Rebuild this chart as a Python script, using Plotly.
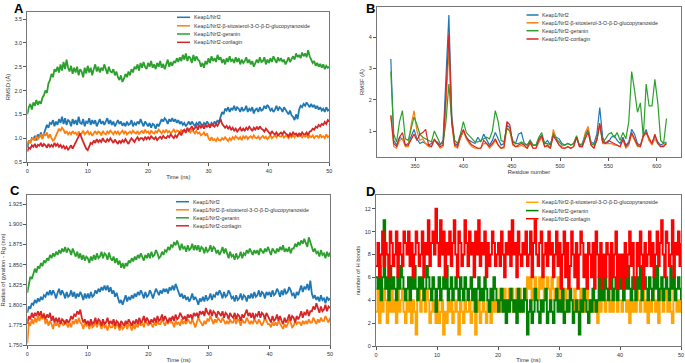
import plotly.graph_objects as go

# ---------------- DATA ----------------
TIME_NS = [round(i * 0.25, 2) for i in range(201)]

SERIES_NAMES = ["Keap1/Nrf2",
                "Keap1/Nrf2-β-sitosterol-3-O-β-D-glucopyranoside",
                "Keap1/Nrf2-geranin",
                "Keap1/Nrf2-corilagin"]

# Panel A: RMSD (Å) x100
rmsd_keap1 = [80,95,90,100,98,105,95,108,102,112,100,110,118,128,122,132,130,138,125,135,
              128,140,132,145,130,142,128,138,135,125,140,130,138,128,145,132,130,140,125,135,
              132,142,128,138,130,138,125,135,140,130,136,128,135,142,130,138,128,135,125,132,
              138,130,135,126,132,125,135,128,130,138,125,132,128,135,130,140,132,125,135,130,
              125,132,122,130,128,120,130,125,132,140,135,142,138,130,140,135,142,135,140,132,
              138,130,135,128,132,125,130,135,128,135,130,125,132,128,135,130,125,132,128,135,
              130,125,132,128,135,130,138,132,145,155,150,162,158,165,155,162,160,168,158,165,
              162,155,165,158,160,168,155,162,158,165,152,160,162,155,165,158,160,168,162,170,
              165,158,162,155,160,168,158,165,162,155,165,160,155,150,158,148,145,138,150,140,
              160,168,165,172,168,175,170,165,172,165,170,162,168,160,165,158,162,155,165,158,160]
rmsd_sito = [88,95,90,98,100,95,105,98,102,108,98,110,105,112,100,108,100,95,98,105,
             112,120,115,122,118,110,115,108,112,108,115,110,112,106,114,108,110,116,108,112,
             115,108,112,105,110,115,108,114,112,106,115,110,108,114,110,116,112,108,115,110,
             114,108,112,116,110,115,108,112,114,110,116,112,110,115,108,113,115,110,118,112,
             114,108,116,112,110,115,112,118,115,110,116,112,118,112,115,110,114,118,112,116,
             115,110,118,112,116,112,118,114,112,118,114,110,115,110,112,106,108,112,105,110,
             100,95,102,96,98,94,100,96,95,100,97,102,98,94,100,96,102,98,104,100,
             98,102,96,104,100,105,98,102,104,100,106,101,100,104,98,102,105,100,103,98,
             102,106,100,104,106,102,108,104,103,107,101,105,104,100,106,102,106,102,108,104,
             104,108,102,106,103,107,100,105,102,106,100,104,105,100,108,102,104,100,108,102,105]
rmsd_geranin = [150,165,172,160,175,168,180,170,178,172,185,190,200,195,215,222,235,228,245,240,
                250,238,255,242,260,245,265,248,240,252,235,248,238,250,232,245,240,228,248,236,
                252,238,248,232,245,255,240,250,238,248,242,255,245,235,250,240,238,245,232,240,
                228,222,232,218,225,235,228,240,232,245,238,250,245,255,242,258,248,260,250,245,
                258,250,262,248,255,245,258,250,262,248,256,245,255,265,250,260,252,262,258,268,
                260,270,262,275,265,278,262,272,268,258,275,262,272,265,262,250,258,248,262,255,
                268,258,272,262,268,260,275,265,270,258,266,255,268,260,272,262,265,258,270,260,
                268,255,265,258,262,270,258,265,255,262,250,258,265,258,270,260,262,270,255,265,
                258,268,260,272,265,258,270,262,268,260,265,255,262,270,260,268,272,265,278,270,
                275,268,280,272,278,270,285,272,265,258,262,252,258,250,256,248,255,245,252,248,250]
rmsd_corilagin = [72,80,78,85,82,88,80,86,84,90,82,88,85,80,88,82,86,82,90,84,
                  88,82,86,80,84,78,82,76,80,85,78,84,92,98,105,110,100,92,85,78,
                  75,82,90,88,95,90,98,92,96,92,100,94,92,98,94,100,95,90,97,92,
                  88,95,90,96,92,98,94,88,95,100,96,92,98,102,96,100,100,96,103,98,
                  102,98,104,100,98,102,96,100,103,99,105,101,100,105,102,108,104,100,106,102,
                  108,112,106,115,118,112,122,116,120,125,118,122,125,118,128,122,126,120,128,124,
                  128,122,130,126,124,130,126,132,140,130,125,122,126,120,124,118,122,116,120,114,
                  118,122,115,120,116,122,118,124,120,115,122,118,124,118,125,120,118,114,120,116,
                  112,108,115,110,108,112,106,110,112,108,114,110,108,104,110,106,112,108,110,105,
                  110,106,112,108,108,112,106,114,115,120,118,124,122,128,125,130,128,134,130,138,135]

# Panel B: RMSF (Å) by residue
RESIDUE = list(range(325, 611, 3))
rmsf_keap1 = [3.3,0.7,0.55,0.8,0.75,0.55,0.6,0.8,1.05,0.75,0.6,0.65,0.6,0.55,0.6,0.7,0.65,0.55,0.7,2.5,
              4.7,1.5,0.6,0.55,0.75,1.0,0.8,0.7,0.65,0.6,0.8,0.65,0.9,0.7,0.55,0.7,0.95,0.75,0.55,0.6,
              1.2,1.1,0.65,0.6,0.9,0.95,0.6,0.55,0.7,0.55,0.55,0.75,0.85,0.6,0.7,0.55,0.95,0.8,0.75,0.6,
              0.55,0.6,0.55,0.6,0.8,0.55,0.6,0.9,1.05,0.65,0.6,0.9,1.75,0.8,0.6,0.65,0.8,0.85,0.7,0.6,
              0.8,0.55,0.65,1.05,0.9,0.6,0.55,0.85,1.05,0.7,0.6,0.85,0.65,0.55,0.6,0.65]
rmsf_sito = [1.5,0.5,0.45,0.7,0.75,0.5,0.5,1.2,1.65,1.0,0.7,0.75,0.6,0.5,0.5,0.7,0.6,0.45,0.5,1.8,
             3.6,1.2,0.5,0.45,0.8,1.0,0.75,0.6,0.5,0.45,0.45,0.45,0.6,0.6,0.45,0.55,0.7,0.55,0.45,0.45,
             1.1,1.0,0.55,0.5,0.5,0.55,0.5,0.45,0.6,0.45,0.45,0.65,0.8,0.5,0.5,0.45,1.05,0.75,0.55,0.5,
             0.45,0.5,0.45,0.5,0.8,0.5,0.5,0.95,1.15,0.55,0.45,0.7,1.2,0.6,0.6,0.6,0.6,0.55,0.55,0.5,
             0.7,0.45,0.55,0.9,0.7,0.5,0.5,0.8,0.95,0.7,0.55,0.75,0.6,0.5,0.55,0.6]
rmsf_geranin = [2.9,0.9,0.65,1.3,1.65,0.75,0.7,1.1,1.45,1.2,0.9,0.8,0.75,0.7,0.65,1.0,0.8,0.6,0.6,1.3,
                2.5,1.3,0.7,0.6,0.9,1.3,0.95,0.85,0.75,0.65,0.65,0.7,0.75,0.8,0.75,1.0,1.65,1.3,0.7,0.65,
                1.1,1.0,0.7,0.6,0.6,0.65,0.6,0.55,0.7,0.55,0.55,0.8,0.95,0.6,0.6,0.55,0.9,0.75,0.65,0.55,
                0.55,0.6,0.55,0.6,0.85,0.55,0.55,0.85,1.0,0.6,0.55,0.7,1.2,0.65,0.75,0.9,0.95,0.8,0.95,0.7,
                0.95,0.75,1.3,2.9,2.3,1.6,1.9,0.8,2.5,1.8,1.8,2.65,1.9,0.7,0.6,1.4]
rmsf_corilagin = [1.5,0.6,0.5,0.8,0.95,0.55,0.55,0.75,0.9,0.7,0.9,0.95,1.05,0.55,0.5,0.75,0.6,0.5,0.55,2.2,
                  4.1,1.3,0.55,0.5,0.85,1.05,0.8,0.65,0.55,0.5,0.45,0.45,0.7,0.6,0.5,0.6,0.75,0.55,0.45,0.5,
                  1.3,1.2,0.6,0.5,0.55,0.6,0.55,0.45,0.65,0.45,0.45,0.7,0.85,0.5,0.55,0.45,0.85,0.7,0.55,0.45,
                  0.45,0.5,0.45,0.5,0.8,0.5,0.5,0.75,0.95,0.55,0.45,0.75,1.25,0.65,0.6,0.7,0.65,0.6,0.55,0.5,
                  0.75,0.5,0.6,0.95,0.75,0.55,0.5,0.85,0.95,0.75,0.6,0.9,0.6,0.5,0.5,0.6]

# Panel C: radius of gyration (nm) x1000
rg_keap1 = [1790,1798,1795,1802,1800,1806,1802,1808,1804,1810,1806,1812,1810,1816,1812,1818,1812,1818,1814,1808,
            1815,1820,1812,1818,1814,1808,1816,1810,1812,1818,1810,1816,1808,1814,1810,1816,1812,1806,1814,1808,
            1814,1808,1816,1810,1812,1818,1814,1820,1816,1822,1818,1824,1818,1824,1816,1822,1814,1818,1810,1815,
            1808,1802,1806,1800,1806,1812,1804,1810,1806,1812,1808,1814,1810,1816,1812,1818,1814,1808,1816,1810,
            1812,1818,1814,1808,1814,1820,1816,1812,1818,1814,1820,1816,1820,1814,1822,1818,1824,1818,1826,1820,
            1816,1810,1814,1808,1812,1806,1810,1804,1808,1814,1806,1810,1806,1800,1808,1804,1810,1804,1812,1806,
            1808,1814,1806,1812,1810,1816,1812,1818,1814,1808,1816,1810,1812,1818,1814,1808,1810,1804,1812,1806,
            1808,1814,1806,1812,1810,1804,1812,1808,1814,1808,1816,1810,1812,1818,1810,1816,1814,1808,1816,1812,
            1816,1810,1818,1812,1814,1820,1816,1810,1818,1812,1820,1814,1816,1822,1818,1812,1814,1808,1816,1812,
            1818,1824,1816,1822,1820,1826,1818,1830,1814,1808,1812,1806,1810,1804,1812,1806,1808,1802,1810,1806,1808]
rg_sito = [1752,1778,1774,1782,1776,1784,1778,1786,1780,1786,1782,1790,1776,1782,1774,1780,1776,1770,1778,1774,
           1778,1772,1780,1776,1774,1780,1776,1772,1778,1772,1780,1776,1782,1776,1784,1778,1776,1770,1778,1774,
           1776,1770,1778,1772,1774,1780,1772,1778,1776,1770,1778,1772,1774,1768,1776,1772,1772,1778,1770,1776,
           1774,1768,1776,1770,1772,1778,1770,1776,1774,1768,1776,1770,1776,1772,1778,1774,1778,1772,1780,1776,
           1774,1780,1776,1772,1778,1774,1780,1776,1776,1782,1778,1774,1780,1776,1782,1778,1778,1772,1780,1776,
           1778,1774,1782,1776,1780,1776,1782,1778,1776,1782,1778,1772,1778,1784,1780,1776,1774,1780,1776,1782,
           1780,1786,1782,1776,1782,1778,1784,1780,1778,1784,1780,1776,1780,1776,1782,1778,1778,1784,1776,1782,
           1780,1774,1782,1778,1778,1784,1780,1776,1780,1776,1782,1778,1776,1782,1778,1774,1778,1784,1780,1776,
           1776,1772,1778,1774,1778,1774,1780,1776,1774,1770,1776,1772,1776,1782,1778,1772,1774,1780,1776,1778,
           1778,1774,1780,1776,1780,1776,1782,1778,1778,1784,1780,1776,1782,1778,1784,1780,1780,1786,1782,1778,1784]
rg_geranin = [1815,1828,1835,1832,1838,1845,1840,1848,1845,1852,1848,1855,1852,1858,1855,1862,1858,1864,1860,1866,
              1862,1868,1864,1870,1866,1872,1865,1870,1868,1862,1870,1864,1860,1866,1858,1864,1856,1862,1855,1860,
              1858,1852,1860,1855,1862,1856,1864,1858,1860,1866,1858,1864,1862,1856,1865,1858,1855,1860,1852,1858,
              1850,1855,1846,1852,1845,1852,1848,1855,1852,1858,1854,1860,1856,1862,1858,1864,1860,1855,1862,1858,
              1864,1858,1866,1860,1862,1868,1864,1858,1860,1866,1862,1868,1866,1872,1868,1874,1872,1878,1874,1880,
              1874,1868,1876,1870,1872,1866,1874,1868,1870,1876,1868,1874,1868,1874,1866,1872,1870,1864,1872,1866,
              1868,1874,1866,1872,1870,1864,1868,1862,1866,1872,1864,1870,1864,1858,1866,1860,1862,1856,1864,1858,
              1860,1866,1858,1864,1862,1868,1864,1870,1866,1862,1868,1864,1868,1862,1870,1866,1864,1870,1866,1872,
              1868,1862,1870,1866,1864,1870,1866,1872,1868,1874,1866,1870,1866,1872,1864,1870,1870,1876,1872,1878,
              1874,1880,1876,1882,1878,1872,1884,1876,1872,1866,1870,1864,1866,1860,1868,1862,1864,1858,1866,1860,1865]
rg_corilagin = [1776,1786,1782,1790,1784,1790,1786,1792,1786,1792,1784,1788,1782,1788,1784,1790,1780,1786,1778,1784,
                1778,1784,1776,1782,1780,1776,1782,1778,1780,1786,1782,1788,1786,1792,1788,1794,1784,1778,1782,1776,
                1780,1774,1782,1776,1778,1784,1776,1782,1780,1774,1782,1776,1778,1784,1776,1780,1776,1782,1774,1780,
                1778,1772,1780,1776,1774,1780,1776,1782,1778,1774,1780,1776,1782,1776,1784,1778,1780,1786,1778,1784,
                1780,1776,1782,1778,1784,1778,1786,1780,1782,1788,1780,1786,1782,1778,1784,1780,1786,1780,1788,1782,
                1784,1790,1786,1782,1786,1780,1788,1784,1788,1782,1790,1786,1790,1784,1792,1788,1792,1786,1796,1790,
                1788,1794,1786,1792,1790,1784,1792,1788,1786,1792,1784,1790,1788,1782,1790,1786,1784,1790,1782,1788,
                1786,1780,1788,1784,1788,1794,1786,1790,1784,1790,1782,1788,1786,1792,1784,1790,1788,1782,1790,1786,
                1784,1778,1786,1780,1782,1788,1780,1786,1780,1776,1784,1778,1782,1788,1780,1786,1784,1778,1786,1782,
                1786,1792,1784,1790,1788,1794,1786,1792,1792,1798,1794,1802,1796,1790,1798,1792,1794,1800,1792,1798,1796]

# Panel D: number of H bonds
HB_NAMES = SERIES_NAMES[1:]
hb_sito = [3,5,2,4,3,5,4,2,4,3,5,3,4,2,5,3,4,5,3,2,
           4,3,5,2,4,3,1,4,5,3,4,5,3,5,4,2,3,4,3,2,
           4,2,3,4,1,3,2,4,3,4,2,3,4,3,1,4,3,2,4,3,
           3,4,2,3,4,1,3,4,2,3,4,3,2,4,3,2,4,3,4,3,
           4,5,3,4,5,4,3,5,4,5,3,4,5,4,5,3,4,5,4,6,
           5,6,4,5,6,5,4,6,5,6,4,5,6,5,4,6,5,4,5,6,
           4,5,3,4,5,3,4,5,4,3,5,4,3,4,5,3,4,3,5,4,
           3,4,5,3,4,2,4,3,5,4,3,4,5,3,4,3,5,4,3,4,
           4,3,5,4,3,4,2,5,3,4,3,5,4,3,4,5,3,4,2,4,
           3,5,4,3,4,2,5,4,3,4,5,3,4,3,2,5,4,3,4,3,4]
hb_geranin = [6,5,7,4,6,11,5,6,4,7,5,6,5,4,6,5,7,6,5,4,
              5,6,4,6,5,7,5,4,6,5,6,4,5,7,6,5,4,6,5,3,
              5,6,4,5,6,5,7,4,5,6,4,5,6,5,4,6,5,4,6,5,
              4,5,6,4,5,3,5,6,4,5,4,6,5,4,3,5,4,6,5,4,
              3,4,5,3,4,2,4,3,5,4,3,4,2,5,3,4,3,5,4,1,
              3,4,2,3,5,4,3,2,4,3,4,5,2,3,4,3,2,4,5,3,
              4,3,5,2,3,4,3,5,4,2,3,4,3,1,4,3,5,4,3,2,
              4,3,5,4,3,4,6,4,5,4,6,5,4,5,6,4,5,6,4,5,
              6,5,4,6,5,7,5,4,6,5,4,6,5,7,4,5,6,5,4,6,
              5,4,6,5,7,4,5,6,4,5,6,5,4,7,5,6,4,5,6,5,4]
hb_corilagin = [7,9,6,8,10,7,9,8,6,10,9,7,8,10,6,9,8,7,10,9,
                8,10,7,9,6,8,10,9,7,8,10,6,9,8,11,7,9,10,8,12,
                9,7,11,8,10,6,9,8,10,7,9,11,8,6,10,9,7,8,11,9,
                7,10,8,9,6,10,8,11,7,9,8,10,6,9,7,8,10,9,7,8,
                9,7,10,8,6,9,8,10,7,11,8,9,6,10,8,7,9,8,10,7,
                8,10,6,9,11,8,7,9,10,6,8,9,7,10,8,9,6,8,10,7,
                9,5,8,10,6,9,5,7,10,8,6,9,5,8,10,9,6,8,5,9,
                8,6,9,5,10,8,6,9,5,8,6,9,8,5,9,6,8,10,5,8,
                6,8,5,9,6,8,10,7,9,5,6,9,7,10,8,5,9,7,8,10,
                7,9,6,8,10,7,9,11,8,6,10,9,7,8,11,6,9,8,10,7,9]

# ---------------- STYLE ----------------
W, H = 685, 363
FONT = "Liberation Sans"
MPL = ["#1f77b4", "#ff7f0e", "#2ca02c", "#d62728"]
HB_COLORS = ["#FFA500", "#008000", "#FF0000"]

def px(x):
    return x / W

def py(y):
    return 1 - y / H

fig = go.Figure()

for name, vals, col in zip(SERIES_NAMES, [rmsd_keap1, rmsd_sito, rmsd_geranin, rmsd_corilagin], MPL):
    fig.add_trace(go.Scatter(x=TIME_NS, y=[v / 100 for v in vals], mode="lines", name=name,
                             line=dict(color=col, width=1.8), xaxis="x", yaxis="y", showlegend=False))
for name, vals, col in zip(SERIES_NAMES, [rmsf_keap1, rmsf_sito, rmsf_geranin, rmsf_corilagin], MPL):
    fig.add_trace(go.Scatter(x=RESIDUE, y=vals, mode="lines", name=name,
                             line=dict(color=col, width=1.2), xaxis="x2", yaxis="y2", showlegend=False))
for name, vals, col in zip(SERIES_NAMES, [rg_keap1, rg_sito, rg_geranin, rg_corilagin], MPL):
    fig.add_trace(go.Scatter(x=TIME_NS, y=[v / 1000 for v in vals], mode="lines", name=name,
                             line=dict(color=col, width=1.8), xaxis="x3", yaxis="y3", showlegend=False))
for name, vals, col in zip(HB_NAMES, [hb_sito, hb_geranin, hb_corilagin], HB_COLORS):
    fig.add_trace(go.Scatter(x=TIME_NS, y=vals, mode="lines", name=name, line_shape="hv",
                             line=dict(color=col, width=2.0), xaxis="x4", yaxis="y4", showlegend=False))

axis_style = dict(showline=True, mirror=True, linecolor="#777", linewidth=1, ticks="outside",
                  ticklen=3, tickcolor="#555", tickfont=dict(size=5.5, color="#333", family=FONT),
                  showgrid=False, zeroline=False, automargin=False)
title_font = dict(size=5.8, color="#333", family=FONT)

fig.update_layout(
    width=W, height=H, margin=dict(l=0, r=0, t=0, b=0, autoexpand=False),
    paper_bgcolor="white", plot_bgcolor="white", font=dict(family=FONT),
    xaxis=dict(domain=[px(27.3), px(329.3)], range=[0, 50], tickvals=[0, 10, 20, 30, 40, 50], anchor="y",
               title=dict(text="Time (ns)", font=title_font, standoff=2), **axis_style),
    yaxis=dict(domain=[py(162), py(12)], range=[0.5, 3.65], tickvals=[0.5, 1.0, 1.5, 2.0, 2.5, 3.0, 3.5],
               tickformat=".1f", anchor="x", title=dict(text="RMSD (Å)", font=title_font, standoff=3), **axis_style),
    xaxis2=dict(domain=[px(377), px(681)], range=[310.7, 625], tickvals=[350, 400, 450, 500, 550, 600], anchor="y2",
                title=dict(text="Residue number", font=title_font, standoff=2), **axis_style),
    yaxis2=dict(domain=[py(157), py(7)], range=[0.17, 4.96], tickvals=[1, 2, 3, 4], anchor="x2",
                title=dict(text="RMSF (Å)", font=title_font, standoff=3), **axis_style),
    xaxis3=dict(domain=[px(27.3), px(330)], range=[0, 50], tickvals=[0, 10, 20, 30, 40, 50], anchor="y3",
                title=dict(text="Time (ns)", font=title_font, standoff=2), **axis_style),
    yaxis3=dict(domain=[py(345), py(195)], range=[1.75, 1.9366],
                tickvals=[1.75, 1.775, 1.8, 1.825, 1.85, 1.875, 1.9, 1.925], tickformat=".3f", anchor="x3",
                title=dict(text="Radius of gyration - Rg (nm)", font=title_font, standoff=3), **axis_style),
    xaxis4=dict(domain=[px(376), px(681)], range=[0, 50], tickvals=[0, 10, 20, 30, 40, 50], anchor="y4",
                title=dict(text="Time (ns)", font=title_font, standoff=2), **axis_style),
    yaxis4=dict(domain=[py(346), py(195)], range=[0, 13.2], tickvals=[0, 2, 4, 6, 8, 10, 12], anchor="x4",
                title=dict(text="number of H bonds", font=title_font, standoff=3), **axis_style),
)

# Panel letters
for letter, x, y in [("A", 12, -1), ("B", 364, -1), ("C", 8, 181), ("D", 364, 182)]:
    fig.add_annotation(text="<b>%s</b>" % letter, xref="paper", yref="paper", x=px(x), y=py(y),
                       xanchor="left", yanchor="top", showarrow=False,
                       font=dict(size=13, color="black", family=FONT))

# Legends (drawn as small key lines + text)
def legend(names, colors, x0, x1, rows):
    for name, col, yy in zip(names, colors, rows):
        fig.add_shape(type="line", xref="paper", yref="paper", x0=px(x0), x1=px(x1), y0=py(yy), y1=py(yy),
                      line=dict(color=col, width=1.5))
        fig.add_annotation(text=name, xref="paper", yref="paper", x=px(x1 + 1.5), y=py(yy),
                           xanchor="left", yanchor="middle", showarrow=False,
                           font=dict(size=5.3, color="#333", family=FONT))

legend(SERIES_NAMES, MPL, 177, 190, [17.3, 25.8, 34.0, 42.3])
legend(SERIES_NAMES, MPL, 526.5, 538.5, [15.0, 22.8, 30.7, 39.0])
legend(SERIES_NAMES, MPL, 176, 189, [201.7, 209.8, 217.8, 225.8])
legend(HB_NAMES, HB_COLORS, 526, 538.5, [202.3, 210.6, 218.7])

fig.write_html("out.html", config={"displayModeBar": False},
               post_script="document.body.style.margin='0';document.body.style.overflow='hidden';")
